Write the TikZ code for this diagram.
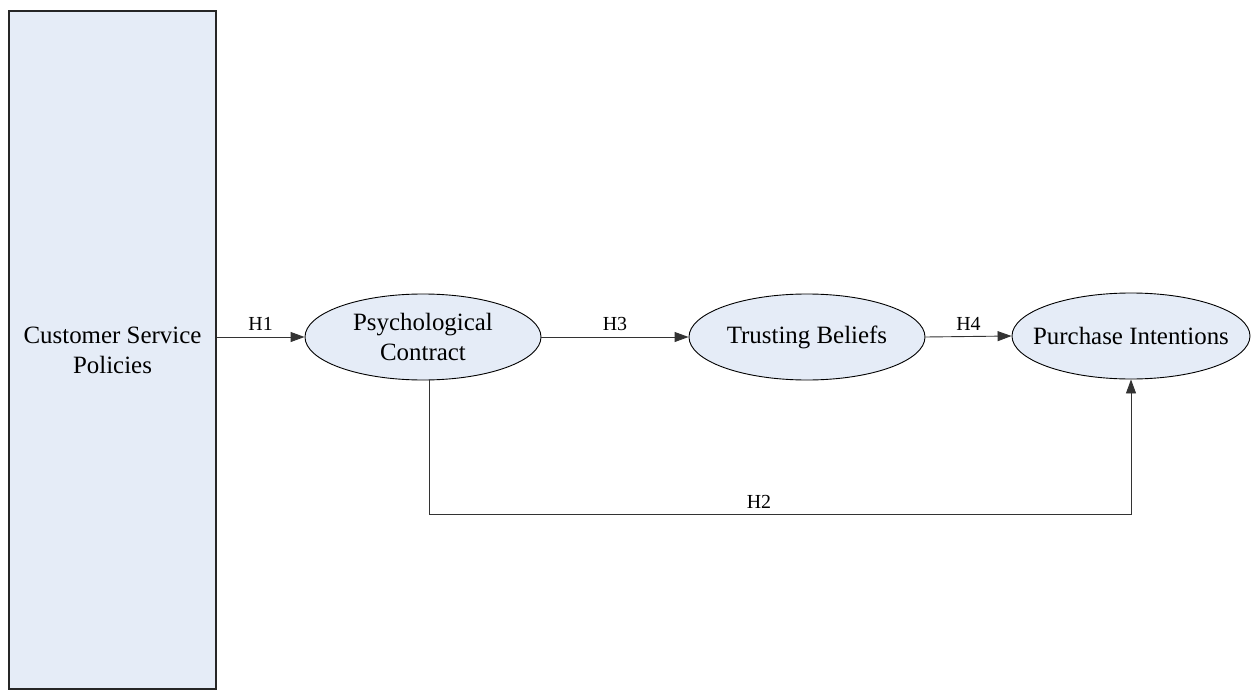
\documentclass[tikz,border=0pt]{standalone}
\usepackage{fontspec}
\setmainfont{Liberation Serif}
\usetikzlibrary{arrows.meta,shapes.geometric,calc}
\definecolor{boxfill}{HTML}{E5ECF7}
\tikzset{
  construct/.style={ellipse, draw=black, line width=0.9bp, fill=boxfill, minimum width=236bp, minimum height=86bp, inner xsep=-22bp, inner ysep=-6bp, align=center, font=\fontsize{25}{30}\selectfont},
  policybox/.style={rectangle, draw=black!85, line width=1.3bp, fill=boxfill, minimum width=207bp, minimum height=678bp, inner sep=0pt, align=center, font=\fontsize{25}{30}\selectfont},
  link/.style={draw=black!80, line width=0.9bp, -{Triangle[length=14bp,width=10bp]}},
  hlabel/.style={font=\fontsize{20}{22}\selectfont, inner sep=1bp, above=5bp}
}
\begin{document}
\begin{tikzpicture}[x=1bp,y=-1bp]
\useasboundingbox (0,0) rectangle (1253,690);
\node[policybox] (csp) at (112.5,350) {Customer Service\\Policies};
\node[construct] (pc) at (423,337) {Psychological\\Contract};
\node[construct] (tb) at (807,337) {Trusting Beliefs};
\node[construct, minimum width=238bp] (pi) at (1131,336) {Purchase Intentions};
\draw[link] (csp.east |- pc.west) -- node[hlabel] {H1} (pc.west);
\draw[link] (pc.east) -- node[hlabel] {H3} (tb.west);
\draw[link] (tb.east) -- node[hlabel] {H4} (pi.west);
\coordinate (h2start) at ([xshift=6bp]pc.south);
\coordinate (h2corner) at ($(h2start)+(0,134)$);
\draw[link] (h2start) -- (h2corner) -| node[hlabel, pos=0.235] {H2} (pi.south);
\end{tikzpicture}
\end{document}
